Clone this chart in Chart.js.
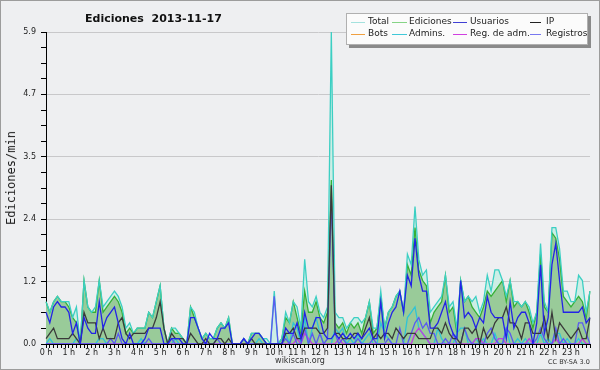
<!DOCTYPE html>
<html><head><meta charset="utf-8">
<script src="https://cdn.jsdelivr.net/npm/chart.js@4/dist/chart.umd.min.js"></script>
<style>
html,body{margin:0;padding:0;background:#eeeff1;}
#wrap{position:relative;width:600px;height:370px;overflow:hidden;background:#eeeff1;}
#frame{position:absolute;left:0;top:0;width:598px;height:368px;border:1px solid #9c9c9c;pointer-events:none;}
#c{position:absolute;left:0;top:0;}
.t{position:absolute;font-family:"DejaVu Sans",sans-serif;color:#222;white-space:pre;line-height:1;}
#title{left:85px;top:13px;font-size:11px;font-weight:bold;color:#111;}
#ytitle{left:10.5px;top:178px;font-family:"DejaVu Sans Mono",monospace;font-size:12px;transform:translate(-50%,-50%) rotate(-90deg);}
#site{left:300px;top:361px;font-size:8px;transform:translate(-50%,-50%);color:#333;}
#lic{left:548px;top:359px;font-size:6.5px;color:#333;}
#legend{position:absolute;left:346px;top:13px;width:242px;height:32px;box-sizing:border-box;background:#fbfbfb;border:1px solid #b0b0b0;box-shadow:3px 3px 0 #8a8a8a;}
.ln{position:absolute;height:0;border-top:1px solid;}
.lt{position:absolute;font-family:"DejaVu Sans",sans-serif;font-size:9px;color:#222;white-space:pre;line-height:1;}
</style></head>
<body>
<div id="wrap">
<canvas id="c" width="600" height="370"></canvas>
<div class="t" id="title">Ediciones  2013-11-17</div>
<div class="t" id="ytitle">Ediciones/min</div>
<div class="t" id="site">wikiscan.org</div>
<div class="t" id="lic">CC BY-SA 3.0</div>
<div id="legend"></div>
<div id="frame"></div>
</div>
<script>
const hourLabels = ['0 h','1 h','2 h','3 h','4 h','5 h','6 h','7 h','8 h','9 h','10 h','11 h','12 h','13 h','14 h','15 h','16 h','17 h','18 h','19 h','20 h','21 h','22 h','23 h'];
const yTickLabels = ['0.0','1.2','2.4','3.5','4.7','5.9'];
const yMax = 5.9;

const total = [
0.8,0.6,0.8,0.9,0.8,0.8,0.8,0.5,0.7,0.0,1.2,0.7,0.6,0.7,1.2,0.7,0.8,0.9,1.0,0.9,0.7,0.3,0.4,0.2,0.3,0.3,0.3,0.6,0.5,0.8,1.1,0.3,0.0,0.3,0.3,0.2,0.1,0.0,0.7,0.6,0.3,0.1,0.2,0.1,0.1,0.3,0.4,0.3,
0.5,0,0,0,0.1,0,0.2,0.2,0.2,0.1,0.1,0,1.0,0,0.1,0.6,0.4,0.8,0.7,0.3,1.6,0.8,0.7,0.9,0.6,0.5,0.7,5.9,0.6,0.5,0.5,0.3,0.4,0.5,0.5,0.4,0.5,0.8,0.3,0.3,1.0,0.3,0.6,0.7,0.9,1.0,0.6,1.7,
1.5,2.6,1.6,1.3,1.4,0.6,0.7,0.8,0.9,1.3,0.7,0.8,0.3,1.2,0.8,0.9,0.8,0.9,0.6,0.8,1.3,1.0,1.4,1.4,1.2,0.9,1.2,0.8,0.8,0.7,0.8,0.7,0.4,0.6,1.9,0.8,0.6,2.2,2.2,1.8,1.0,1.0,0.8,0.8,1.3,1.2,0.6,1.0];
const ediciones = [
0.8,0.6,0.8,0.9,0.8,0.8,0.7,0.5,0.4,0.0,1.2,0.7,0.6,0.6,1.2,0.6,0.7,0.8,0.9,0.8,0.6,0.2,0.3,0.2,0.3,0.3,0.3,0.6,0.5,0.8,1.1,0.3,0.0,0.3,0.2,0.2,0.1,0.0,0.7,0.5,0.3,0.1,0.2,0.1,0.1,0.3,0.4,0.3,
0.5,0,0,0,0.1,0,0.2,0.2,0.2,0.1,0,0,0,0,0.1,0.5,0.4,0.8,0.5,0.2,1.0,0.6,0.6,0.8,0.5,0.4,0.6,3.1,0.4,0.3,0.4,0.2,0.4,0.3,0.4,0.2,0.5,0.8,0.2,0.3,0.9,0.3,0.6,0.7,0.9,1.0,0.6,1.5,
1.3,2.2,1.4,1.2,1.1,0.4,0.6,0.7,0.8,1.3,0.6,0.7,0.2,1.2,0.8,0.9,0.7,0.6,0.5,0.7,1.0,0.9,1.0,1.1,1.2,0.8,1.2,0.7,0.8,0.7,0.8,0.6,0.3,0.6,1.7,0.7,0.6,2.1,2.0,1.6,0.9,0.8,0.7,0.8,0.9,0.8,0.5,1.0];
const usuarios = [
0.6,0.4,0.7,0.8,0.7,0.7,0.6,0.2,0.4,0.0,0.5,0.3,0.2,0.2,0.8,0.3,0.5,0.6,0.7,0.4,0.1,0.0,0.2,0.0,0.0,0.0,0.1,0.3,0.3,0.3,0.3,0.0,0.0,0.1,0.1,0.1,0.0,0.0,0.5,0.5,0.3,0.1,0.0,0.2,0.1,0.1,0.3,0.3,
0.4,0,0,0,0.1,0,0.1,0.2,0.2,0.1,0,0,0,0,0,0.3,0.2,0.2,0.4,0.1,0.6,0.3,0.3,0.5,0.5,0.2,0.1,0.1,0.2,0.1,0.2,0.1,0.2,0.1,0.2,0.1,0.2,0.3,0.1,0.1,0.8,0.1,0.4,0.6,0.7,1.0,0.6,1.3,
1.1,2.0,1.3,1.0,1.0,0.3,0.3,0.4,0.6,0.8,0.4,0.2,0.1,1.2,0.5,0.6,0.5,0.3,0.5,0.4,0.9,0.6,0.5,0.5,0.5,0.1,0.8,0.3,0.5,0.6,0.6,0.4,0.0,0.4,1.5,0.2,0.5,1.5,1.9,1.2,0.6,0.6,0.6,0.6,0.6,0.7,0.4,0.5];
const ip = [
0.1,0.2,0.3,0.1,0.1,0.1,0.1,0.2,0.1,0.0,0.6,0.4,0.4,0.4,0.1,0.3,0.1,0.1,0.1,0.4,0.5,0.2,0.1,0.2,0.2,0.2,0.2,0.3,0.3,0.5,0.8,0.3,0.0,0.2,0.1,0.1,0.1,0.0,0.2,0.1,0.0,0.0,0.1,0.0,0.0,0.1,0.1,0.0,
0.1,0,0,0,0,0,0.1,0,0,0,0,0,0,0,0,0.2,0.2,0.3,0.1,0.1,0.3,0.3,0.3,0.3,0.2,0.2,0.3,3.0,0.2,0.2,0.1,0.1,0.1,0.2,0.2,0.1,0.3,0.5,0.1,0.2,0.1,0.2,0.2,0.1,0.3,0.2,0.1,0.2,
0.2,0.2,0.1,0.1,0.1,0.1,0.3,0.3,0.2,0.4,0.2,0.1,0.1,0.0,0.3,0.3,0.2,0.3,0.0,0.3,0.1,0.2,0.4,0.5,0.5,0.7,0.4,0.4,0.3,0.1,0.4,0.4,0.2,0.2,0.2,0.5,0.1,0.6,0.1,0.4,0.3,0.2,0.1,0.2,0.3,0.1,0.1,0.5];
const bots = [
0,0,0,0,0,0,0,0,0,0,0,0,0,0,0,0,0,0,0,0,0,0,0,0,0,0,0,0,0,0,0,0,0,0,0,0,0,0,0,0,0,0,0,0,0,0,0,0,
0,0,0,0,0,0,0,0,0,0,0,0,0,0,0,0,0,0,0,0,0,0,0,0,0,0,0,0,0,0,0,0,0,0,0,0,0,0,0,0,0,0,0,0,0,0,0,0,
0,0,0,0,0,0,0,0,0,0,0,0,0,0,0,0,0,0,0,0,0,0,0,0,0,0,0,0,0,0,0,0,0,0,0,0,0,0,0,0,0,0,0,0,0,0,0,0];
const admins = [
0,0.1,0,0,0,0,0,0,0.1,0,0,0,0,0,0.1,0.1,0,0,0,0,0,0,0,0,0,0.1,0,0,0,0,0,0,0,0,0.1,0,0,0,0,0,0,0,0,0,0,0,0,0,
0,0,0,0,0,0,0,0,0.1,0,0,0,0,0,0,0.2,0,0.4,0.3,0,0.5,0,0.3,0.5,0.2,0,0,0,0.3,0.2,0.3,0,0.1,0,0.2,0,0.1,0.2,0,0,0.4,0.2,0.1,0,0,0,0,0.5,
0.6,0.7,0.3,0.2,0.1,0,0,0.3,0.1,0,0,0,0.2,0.3,0.3,0,0,0.1,0,0.1,0,0,0.2,0,0,0.3,0,0,0.1,0,0.1,0,0,0,0.2,0,0.1,0,0.2,0.2,0,0.1,0,0,0.1,0,0,0];
const regAdm = [
0,0,0,0,0,0,0,0,0,0,0,0,0,0,0,0,0,0,0,0,0,0,0,0,0,0,0,0,0,0,0,0,0,0,0,0,0,0,0,0,0,0,0,0,0,0,0,0,
0,0,0,0,0,0,0,0,0,0,0,0,0,0,0,0,0,0,0.1,0,0.2,0.1,0,0,0,0,0,0,0,0.1,0,0,0,0,0,0,0,0,0,0,0,0,0,0,0,0,0,0,
0,0.2,0.3,0.2,0.1,0,0,0,0,0,0,0,0,0,0,0,0,0.1,0.1,0,0,0,0,0.1,0.1,0,0,0,0,0,0,0.1,0,0,0,0,0,0,0.1,0,0,0,0,0,0,0.1,0,0];
const registros = [
0,0,0,0,0,0,0,0,0,0,0,0,0,0,0,0,0,0.1,0,0.2,0,0,0,0,0,0,0,0.1,0,0,0,0,0,0.1,0,0,0,0,0,0,0,0,0,0,0,0.1,0,0,
0,0,0,0,0.1,0,0,0,0,0,0,0,0.9,0,0,0.1,0,0.2,0,0,0.3,0,0.2,0,0.2,0,0.1,2.8,0.2,0,0.1,0,0,0,0.1,0,0,0,0.1,0,0,0,0.1,0,0,0.3,0,0,
0.2,0.4,0.5,0.3,0.4,0.2,0.2,0,0,0.1,0,0.2,0,0,0.3,0.1,0,0,0,0,0.2,0.3,0.1,0,0,0.3,0.2,0,0,0,0,0,0,0.1,0.3,0.1,0,0,0.3,0,0.1,0,0,0,0.4,0.4,0.2,0];

const slots = total.map((_, i) => i);

const series = [
  {name:'Total', legend:'#a4e2de'},
  {name:'Ediciones', legend:'#86d486'},
  {name:'Usuarios', legend:'#4040d4'},
  {name:'IP', legend:'#222222'},
  {name:'Bots', legend:'#f0a040'},
  {name:'Admins.', legend:'#40c8d8'},
  {name:'Reg. de adm.', legend:'#d040e0'},
  {name:'Registros', legend:'#7878f0'}
];
// legend
const legPos = [[4,14,21],[45,15,62],[106,14,123],[183,11,199]];
const lg = document.getElementById('legend');
series.forEach((s, k) => {
  const col = k % 4, row = Math.floor(k / 4);
  const [lx, lw, tx] = legPos[col];
  const y = row === 0 ? 8 : 20;
  const l = document.createElement('div');
  l.className = 'ln'; l.style.left = lx + 'px'; l.style.width = lw + 'px'; l.style.top = (y) + 'px';
  l.style.borderTopColor = s.legend; lg.appendChild(l);
  const t = document.createElement('div');
  t.className = 'lt'; t.textContent = s.name; t.style.left = tx + 'px'; t.style.top = (y - 5) + 'px';
  lg.appendChild(t);
});

function line(label, data, color, order, w) {
  return {label, data, borderColor: color, borderWidth: w || 1.3, pointRadius: 0, tension: 0, fill: false, order};
}

Chart.defaults.font.family = '"DejaVu Sans", sans-serif';
new Chart(document.getElementById('c'), {
  type: 'line',
  data: {
    labels: slots,
    datasets: [
      line('Usuarios', usuarios, '#2323e6', 1),
      line('IP', ip, '#3a3a3a', 2),
      line('Registros', registros, '#5a5af0', 3),
      line('Reg. de adm.', regAdm, '#c13ee0', 4),
      line('Admins.', admins, '#2fc4d6', 5),
      line('Total', total, '#3ccfc3', 6),
      Object.assign(line('Ediciones', ediciones, '#36b036', 7), {fill: 'origin', backgroundColor: '#99cb99'}),
      {label: 'Total area', data: total, borderWidth: 0, pointRadius: 0, tension: 0, fill: 'origin', backgroundColor: '#cdeee6', order: 8},
      line('Bots', bots, '#f0a030', 9)
    ]
  },
  options: {
    animation: false,
    responsive: false,
    events: [],
    layout: {padding: {top: 32, right: 10, left: 0, bottom: 0}},
    plugins: {legend: {display: false}, tooltip: {enabled: false}, title: {display: false}},
    scales: {
      x: {
        type: 'category',
        offset: false,
        afterFit: s => { s.height = 26; },
        grid: {display: true, drawOnChartArea: false, tickLength: 4, tickColor: '#000', tickWidth: 1},
        border: {color: '#000', width: 1},
        ticks: {
          autoSkip: false, maxRotation: 0, minRotation: 0, padding: 0,
          color: '#222', font: {size: 8},
          callback: (v, i) => (i % 6 === 0 ? hourLabels[i / 6] : '')
        }
      },
      y: {
        min: 0, max: yMax,
        afterFit: s => { s.width = 46; },
        afterBuildTicks: s => {
          const t = [];
          for (let k = 0; k <= 20; k++) t.push({value: yMax * k / 20});
          s.ticks = t;
        },
        grid: {
          color: c => (c.index % 4 === 0 && c.index > 0 ? '#c8c8ca' : 'rgba(0,0,0,0)'),
          lineWidth: 1, tickLength: 5, tickColor: '#000', drawTicks: true
        },
        border: {color: '#000', width: 1},
        ticks: {
          autoSkip: false, padding: 5, color: '#222', font: {size: 8},
          callback: (v, i) => (i % 4 === 0 ? yTickLabels[i / 4] : '')
        }
      }
    }
  }
});
</script>
</body></html>
